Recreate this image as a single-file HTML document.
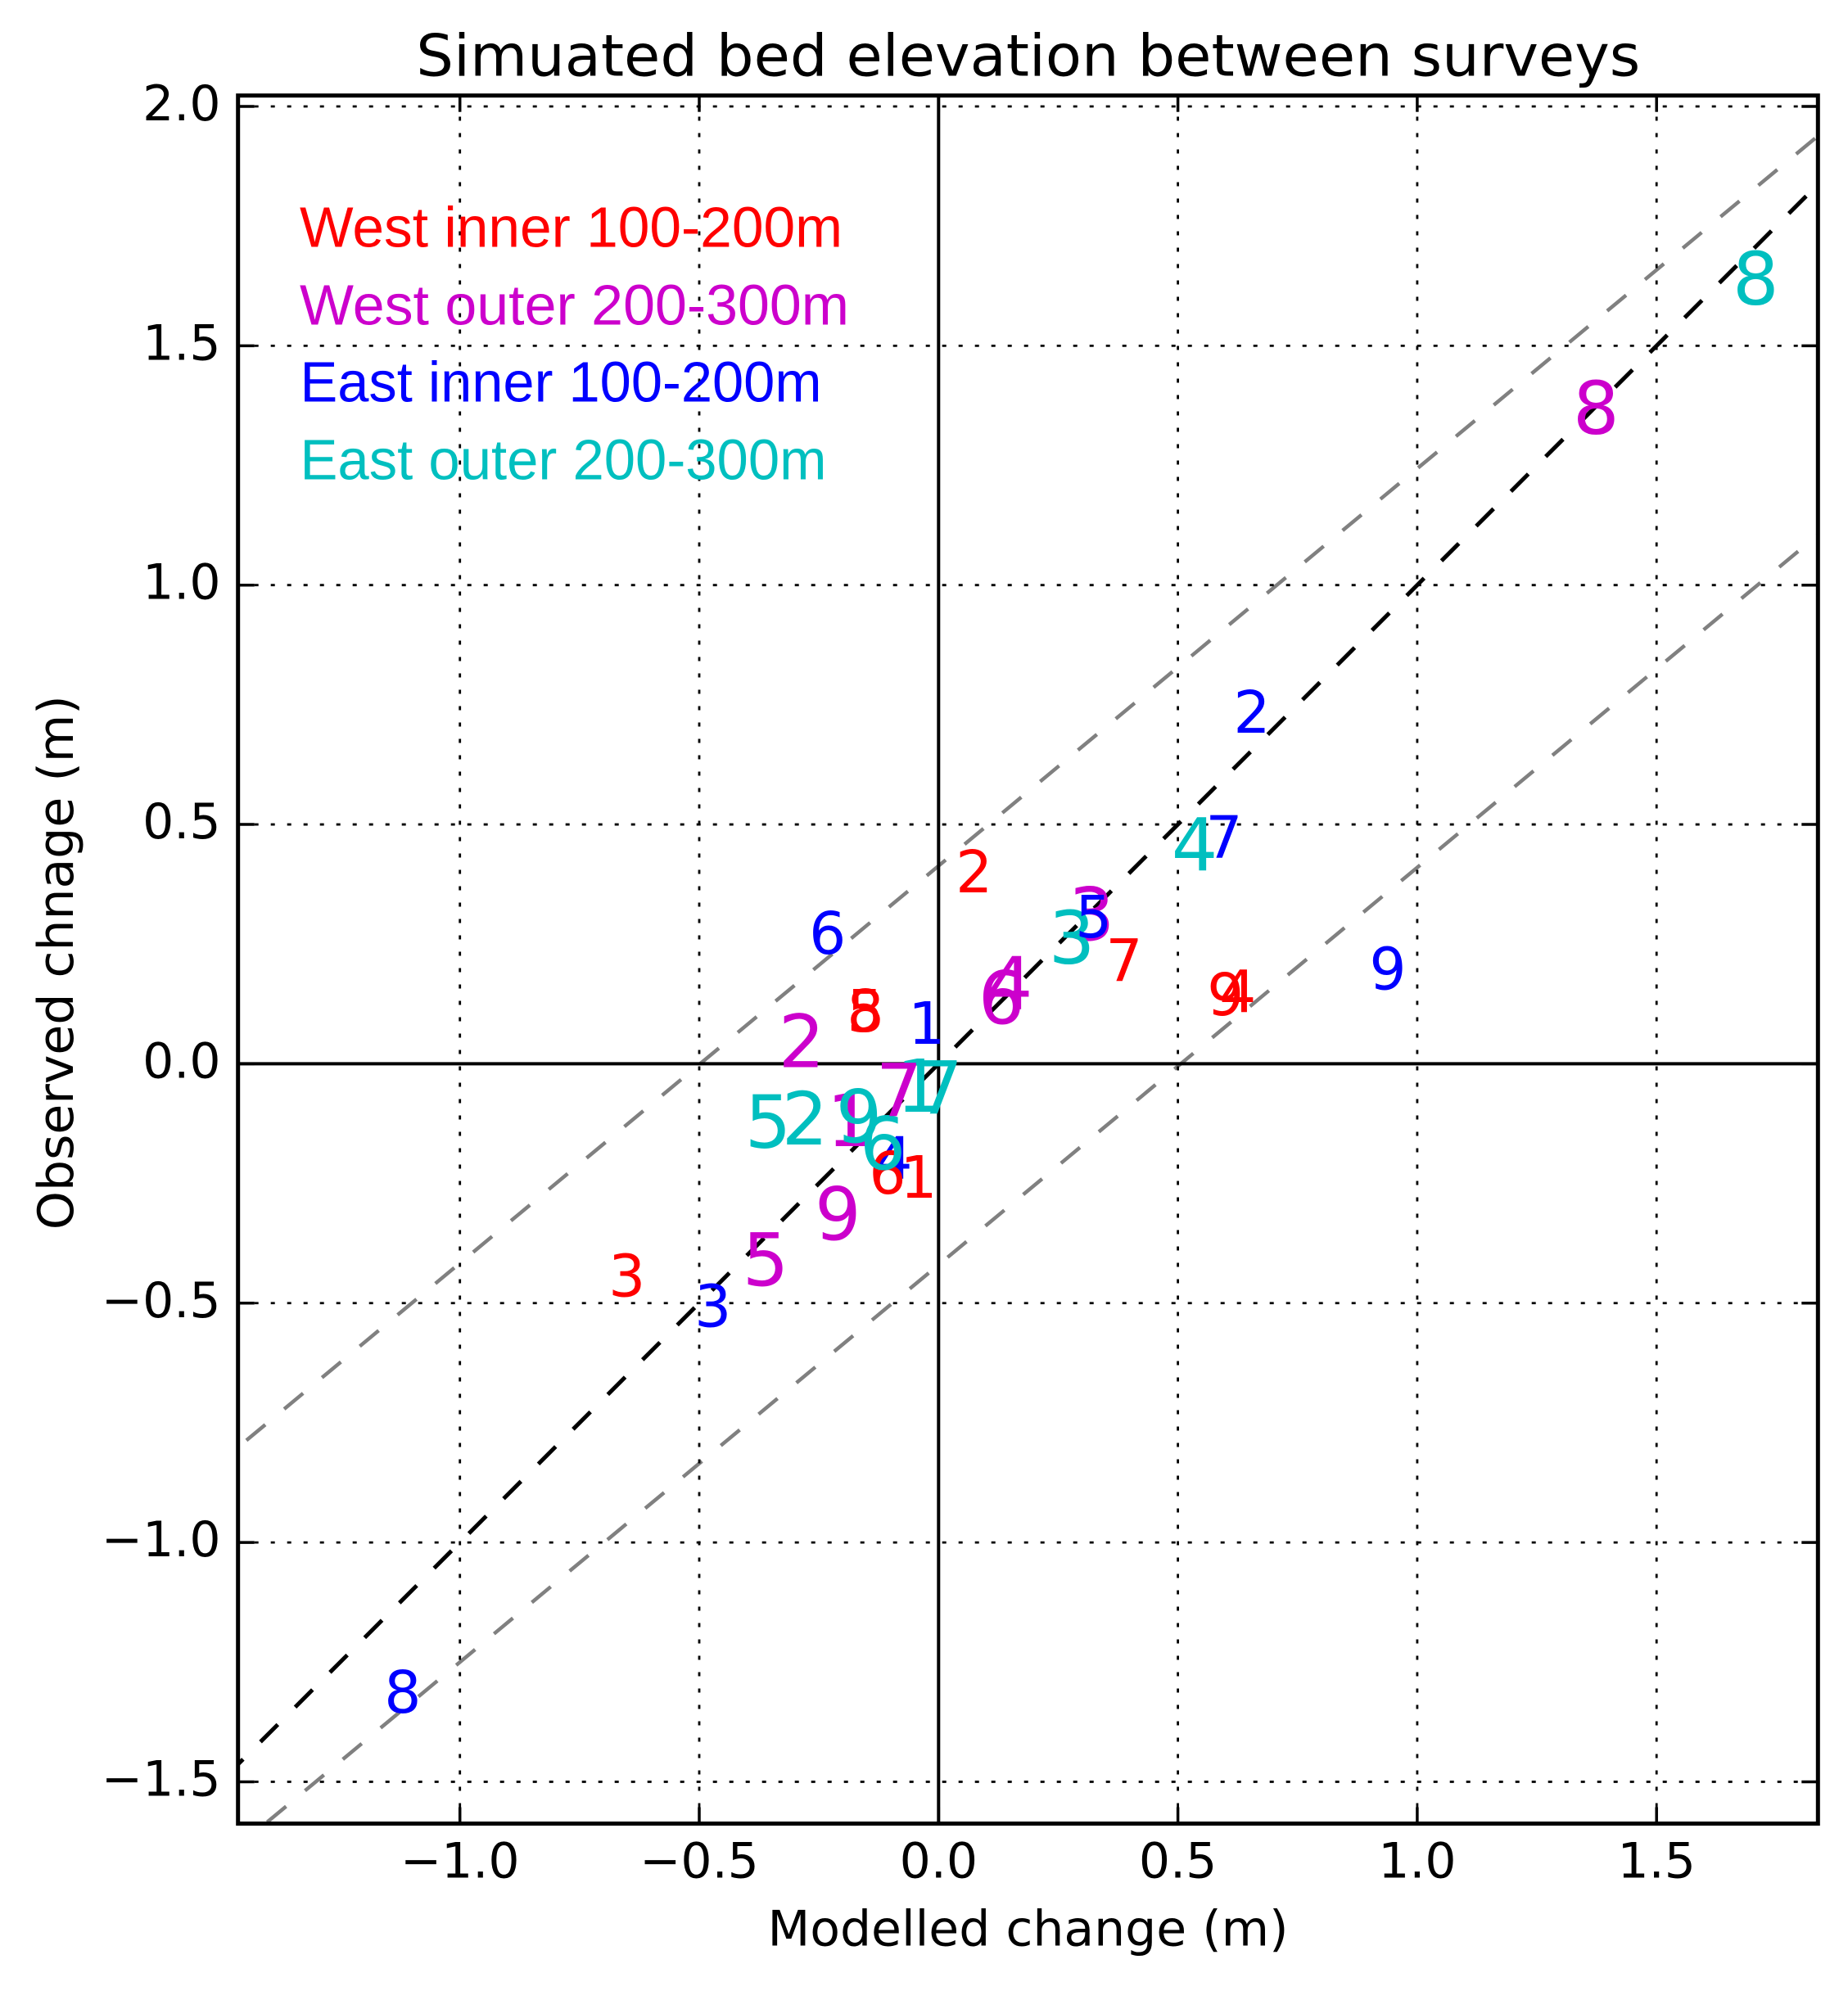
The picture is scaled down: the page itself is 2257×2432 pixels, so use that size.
<!DOCTYPE html>
<html>
<head>
<meta charset="utf-8">
<style>
html,body{margin:0;padding:0;background:#fff;}
svg{display:block;}
.d{font-family:"DejaVu Sans","Liberation Sans",sans-serif;}
</style>
</head>
<body>
<svg width="2257" height="2432" viewBox="0 0 2257 2432" xmlns="http://www.w3.org/2000/svg">
<defs>
<clipPath id="ax"><rect x="290.7" y="116.7" width="1929.6" height="2110.8"/></clipPath>
</defs>
<rect x="0" y="0" width="2257" height="2432" fill="#fff"/>

<!-- diagonal lines -->
<g clip-path="url(#ax)" fill="none">
<line x1="275.67" y1="2170.1" x2="2315.5" y2="130.0" stroke="#000" stroke-width="5" stroke-dasharray="30 30"/>
<line x1="254.75" y1="1797.74" x2="2315.5" y2="87.02" stroke="#808080" stroke-width="4.5" stroke-dasharray="30 30"/>
<line x1="280.2" y1="2263.96" x2="2315.5" y2="574.37" stroke="#808080" stroke-width="4.5" stroke-dasharray="30 30"/>
</g>

<!-- grid -->
<g stroke="#000" stroke-width="2.8" stroke-dasharray="5 15" fill="none">
<line x1="290.7" y1="130.0" x2="2220.3" y2="130.0"/>
<line x1="290.7" y1="422.35" x2="2220.3" y2="422.35"/>
<line x1="290.7" y1="714.7" x2="2220.3" y2="714.7"/>
<line x1="290.7" y1="1007.05" x2="2220.3" y2="1007.05"/>
<line x1="290.7" y1="1591.75" x2="2220.3" y2="1591.75"/>
<line x1="290.7" y1="1884.1" x2="2220.3" y2="1884.1"/>
<line x1="290.7" y1="2176.45" x2="2220.3" y2="2176.45"/>
<line x1="561.7" y1="2227.5" x2="561.7" y2="116.7"/>
<line x1="854.0" y1="2227.5" x2="854.0" y2="116.7"/>
<line x1="1438.6" y1="2227.5" x2="1438.6" y2="116.7"/>
<line x1="1730.9" y1="2227.5" x2="1730.9" y2="116.7"/>
<line x1="2023.2" y1="2227.5" x2="2023.2" y2="116.7"/>
</g>

<!-- zero lines -->
<g stroke="#000" stroke-width="4">
<line x1="1146.3" y1="116.7" x2="1146.3" y2="2227.5"/>
<line x1="290.7" y1="1299.4" x2="2220.3" y2="1299.4"/>
</g>

<!-- data labels: index order, red, magenta, blue, cyan -->
<g class="d" text-anchor="middle">
<!-- i=1 -->
<text x="1122" y="1463" font-size="71" fill="#ff0000">1</text>
<text x="1038" y="1400" font-size="89" fill="#cc00cc">1</text>
<text x="1131.7" y="1275" font-size="71" fill="#0000ff">1</text>
<text x="1123" y="1358" font-size="89" fill="#00bfbf">1</text>
<!-- i=2 -->
<text x="1189.7" y="1090" font-size="71" fill="#ff0000">2</text>
<text x="979" y="1303.3" font-size="89" fill="#cc00cc">2</text>
<text x="1529" y="895" font-size="71" fill="#0000ff">2</text>
<text x="983" y="1398" font-size="89" fill="#00bfbf">2</text>
<!-- i=3 -->
<text x="765.7" y="1583.3" font-size="71" fill="#ff0000">3</text>
<text x="1333" y="1148" font-size="89" fill="#cc00cc">3</text>
<text x="870.7" y="1620.5" font-size="71" fill="#0000ff">3</text>
<text x="1309" y="1176.7" font-size="89" fill="#00bfbf">3</text>
<!-- i=4 -->
<text x="1511.7" y="1236.7" font-size="71" fill="#ff0000">4</text>
<text x="1233" y="1233" font-size="89" fill="#cc00cc">4</text>
<text x="1092" y="1440" font-size="71" fill="#0000ff">4</text>
<text x="1459" y="1063.3" font-size="89" fill="#00bfbf">4</text>
<!-- i=5 -->
<text x="1057" y="1260" font-size="71" fill="#ff0000">5</text>
<text x="935" y="1570" font-size="89" fill="#cc00cc">5</text>
<text x="1335.7" y="1145" font-size="71" fill="#0000ff">5</text>
<text x="938" y="1401.7" font-size="89" fill="#00bfbf">5</text>
<!-- i=6 -->
<text x="1084" y="1458" font-size="71" fill="#ff0000">6</text>
<text x="1223" y="1250" font-size="89" fill="#cc00cc">6</text>
<text x="1010.7" y="1165" font-size="71" fill="#0000ff">6</text>
<text x="1078" y="1428" font-size="89" fill="#00bfbf">6</text>
<!-- i=7 -->
<text x="1373" y="1198" font-size="71" fill="#ff0000">7</text>
<text x="1098" y="1363" font-size="89" fill="#cc00cc">7</text>
<text x="1495" y="1047.5" font-size="71" fill="#0000ff">7</text>
<text x="1147.7" y="1360" font-size="89" fill="#00bfbf">7</text>
<!-- i=8 -->
<text x="1057" y="1260" font-size="71" fill="#ff0000">8</text>
<text x="1949.3" y="529.3" font-size="89" fill="#cc00cc">8</text>
<text x="491.9" y="2092" font-size="71" fill="#0000ff">8</text>
<text x="2144.3" y="371.7" font-size="89" fill="#00bfbf">8</text>
<!-- i=9 -->
<text x="1496.7" y="1240" font-size="71" fill="#ff0000">9</text>
<text x="1023.3" y="1514" font-size="89" fill="#cc00cc">9</text>
<text x="1695" y="1208.3" font-size="71" fill="#0000ff">9</text>
<text x="1049" y="1395" font-size="89" fill="#00bfbf">9</text>
</g>

<!-- legend text -->
<g font-family="'Liberation Sans', Arial, sans-serif" font-size="70">
<text x="366" y="301.7" fill="#ff0000" textLength="663" lengthAdjust="spacingAndGlyphs">West inner 100-200m</text>
<text x="366" y="396.7" fill="#cc00cc" textLength="671" lengthAdjust="spacingAndGlyphs">West outer 200-300m</text>
<text x="366.5" y="490.7" fill="#0000ff" textLength="637" lengthAdjust="spacingAndGlyphs">East inner 100-200m</text>
<text x="366.5" y="585.7" fill="#00bfbf" textLength="643" lengthAdjust="spacingAndGlyphs">East outer 200-300m</text>
</g>

<!-- ticks -->
<g stroke="#000" stroke-width="3.5">
<line x1="290.7" y1="130.0" x2="310.7" y2="130.0"/>
<line x1="290.7" y1="422.35" x2="310.7" y2="422.35"/>
<line x1="290.7" y1="714.7" x2="310.7" y2="714.7"/>
<line x1="290.7" y1="1007.05" x2="310.7" y2="1007.05"/>
<line x1="290.7" y1="1299.4" x2="310.7" y2="1299.4"/>
<line x1="290.7" y1="1591.75" x2="310.7" y2="1591.75"/>
<line x1="290.7" y1="1884.1" x2="310.7" y2="1884.1"/>
<line x1="290.7" y1="2176.45" x2="310.7" y2="2176.45"/>
<line x1="2200.3" y1="130.0" x2="2220.3" y2="130.0"/>
<line x1="2200.3" y1="422.35" x2="2220.3" y2="422.35"/>
<line x1="2200.3" y1="714.7" x2="2220.3" y2="714.7"/>
<line x1="2200.3" y1="1007.05" x2="2220.3" y2="1007.05"/>
<line x1="2200.3" y1="1299.4" x2="2220.3" y2="1299.4"/>
<line x1="2200.3" y1="1591.75" x2="2220.3" y2="1591.75"/>
<line x1="2200.3" y1="1884.1" x2="2220.3" y2="1884.1"/>
<line x1="2200.3" y1="2176.45" x2="2220.3" y2="2176.45"/>
<line x1="561.7" y1="2227.5" x2="561.7" y2="2207.5"/>
<line x1="854.0" y1="2227.5" x2="854.0" y2="2207.5"/>
<line x1="1146.3" y1="2227.5" x2="1146.3" y2="2207.5"/>
<line x1="1438.6" y1="2227.5" x2="1438.6" y2="2207.5"/>
<line x1="1730.9" y1="2227.5" x2="1730.9" y2="2207.5"/>
<line x1="2023.2" y1="2227.5" x2="2023.2" y2="2207.5"/>
<line x1="561.7" y1="116.7" x2="561.7" y2="136.7"/>
<line x1="854.0" y1="116.7" x2="854.0" y2="136.7"/>
<line x1="1146.3" y1="116.7" x2="1146.3" y2="136.7"/>
<line x1="1438.6" y1="116.7" x2="1438.6" y2="136.7"/>
<line x1="1730.9" y1="116.7" x2="1730.9" y2="136.7"/>
<line x1="2023.2" y1="116.7" x2="2023.2" y2="136.7"/>
</g>

<!-- spines -->
<rect x="290.7" y="116.7" width="1929.6" height="2110.8" fill="none" stroke="#000" stroke-width="5"/>

<!-- y tick labels -->
<g class="d" font-size="60" fill="#000" text-anchor="end">
<text x="269.5" y="147.0">2.0</text>
<text x="269.5" y="439.35">1.5</text>
<text x="269.5" y="731.7">1.0</text>
<text x="269.5" y="1024.05">0.5</text>
<text x="269.5" y="1316.4">0.0</text>
<text x="269.5" y="1608.75">−0.5</text>
<text x="269.5" y="1901.1">−1.0</text>
<text x="269.5" y="2193.45">−1.5</text>
</g>

<!-- x tick labels -->
<g class="d" font-size="60" fill="#000" text-anchor="middle">
<text x="561.7" y="2293.5">−1.0</text>
<text x="854.0" y="2293.5">−0.5</text>
<text x="1146.3" y="2293.5">0.0</text>
<text x="1438.6" y="2293.5">0.5</text>
<text x="1730.9" y="2293.5">1.0</text>
<text x="2023.2" y="2293.5">1.5</text>
</g>

<!-- axis labels and title -->
<text class="d" x="1255.5" y="2376.5" font-size="60" fill="#000" text-anchor="middle">Modelled change (m)</text>
<text class="d" x="0" y="0" font-size="60" fill="#000" text-anchor="middle" transform="translate(89,1175.8) rotate(-90)">Observed chnage (m)</text>
<text class="d" x="1255.8" y="92.5" font-size="70" fill="#000" text-anchor="middle" textLength="1495" lengthAdjust="spacingAndGlyphs">Simuated bed elevation between surveys</text>
</svg>
</body>
</html>
